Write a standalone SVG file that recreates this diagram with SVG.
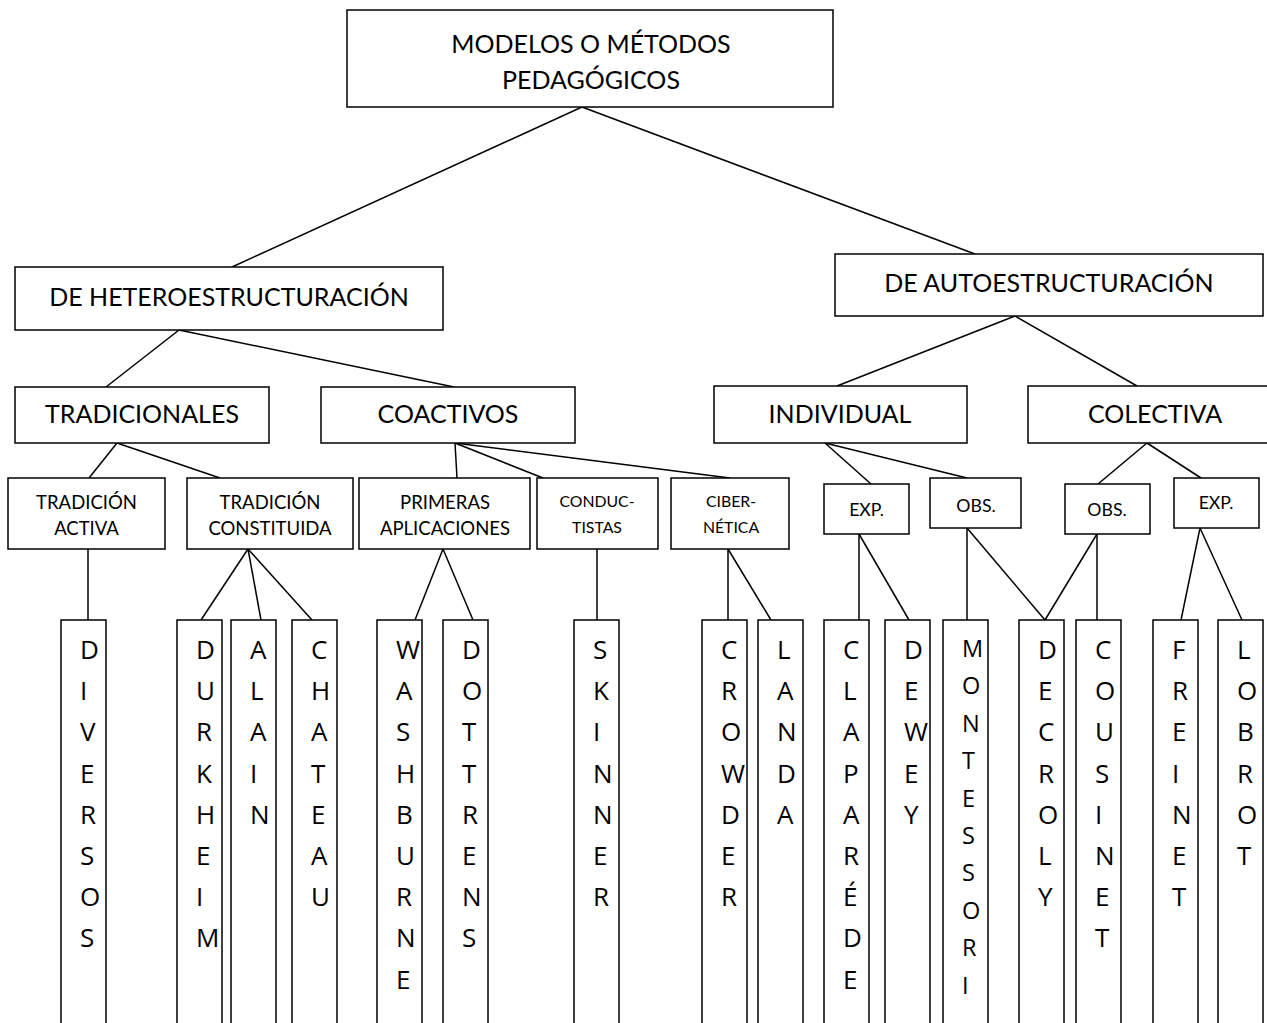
<svg xmlns="http://www.w3.org/2000/svg" width="1267" height="1023" viewBox="0 0 1267 1023">
<style>
.box{fill:#fff;stroke:#000;stroke-width:1.5}
.t{font-family:Lato,"Liberation Sans",sans-serif;fill:#000;text-anchor:middle}
.leaf{font-family:"Open Sans","Liberation Sans",sans-serif;font-size:26px;fill:#000}
.mont{font-size:23.5px}
#connectors line{stroke:#000;stroke-width:1.5}
</style>
<rect width="1267" height="1023" fill="#fff"/>
<g id="connectors">
<line x1="582" y1="107" x2="232" y2="267"/>
<line x1="582" y1="107" x2="975" y2="254"/>
<line x1="179" y1="330" x2="106" y2="387"/>
<line x1="179" y1="330" x2="454" y2="387"/>
<line x1="1015" y1="316" x2="837" y2="386"/>
<line x1="1015" y1="316" x2="1137" y2="386"/>
<line x1="117" y1="443" x2="89" y2="478"/>
<line x1="117" y1="443" x2="220" y2="478"/>
<line x1="455" y1="443" x2="457" y2="478"/>
<line x1="455" y1="443" x2="543" y2="478"/>
<line x1="455" y1="443" x2="730" y2="478"/>
<line x1="825" y1="443" x2="871" y2="484"/>
<line x1="825" y1="443" x2="967" y2="478"/>
<line x1="1147" y1="443" x2="1098" y2="484"/>
<line x1="1147" y1="443" x2="1201" y2="478"/>
<line x1="88" y1="549" x2="88" y2="620"/>
<line x1="248" y1="549" x2="201" y2="620"/>
<line x1="248" y1="549" x2="261" y2="620"/>
<line x1="248" y1="549" x2="312" y2="620"/>
<line x1="443" y1="549" x2="415" y2="620"/>
<line x1="443" y1="549" x2="473" y2="620"/>
<line x1="597" y1="549" x2="597" y2="620"/>
<line x1="728" y1="549" x2="728" y2="620"/>
<line x1="728" y1="549" x2="771" y2="620"/>
<line x1="859" y1="534" x2="859" y2="620"/>
<line x1="859" y1="534" x2="909" y2="620"/>
<line x1="967" y1="528" x2="967" y2="620"/>
<line x1="967" y1="528" x2="1045" y2="620"/>
<line x1="1097" y1="534" x2="1045" y2="620"/>
<line x1="1097" y1="534" x2="1097" y2="620"/>
<line x1="1200" y1="528" x2="1181" y2="620"/>
<line x1="1200" y1="528" x2="1242" y2="620"/>
</g>
<g id="n-root"><rect class="box" x="347" y="10" width="486" height="97"/>
<text class="t" x="591" y="53" font-size="25">MODELOS O MÉTODOS</text>
<text class="t" x="591" y="89" font-size="25">PEDAGÓGICOS</text></g>
<g id="n-hetero"><rect class="box" x="15" y="267" width="428" height="63"/>
<text class="t" x="229" y="306" font-size="25">DE HETEROESTRUCTURACIÓN</text></g>
<g id="n-auto"><rect class="box" x="835" y="254" width="428" height="62"/>
<text class="t" x="1049" y="292" font-size="25">DE AUTOESTRUCTURACIÓN</text></g>
<g id="n-trad"><rect class="box" x="15" y="387" width="254" height="56"/>
<text class="t" x="142" y="423" font-size="25">TRADICIONALES</text></g>
<g id="n-coact"><rect class="box" x="321" y="387" width="254" height="56"/>
<text class="t" x="448" y="423" font-size="25">COACTIVOS</text></g>
<g id="n-indiv"><rect class="box" x="714" y="386" width="253" height="57"/>
<text class="t" x="840" y="423" font-size="25">INDIVIDUAL</text></g>
<g id="n-colec"><rect class="box" x="1028" y="386" width="253" height="57"/>
<text class="t" x="1155" y="423" font-size="25">COLECTIVA</text></g>
<g id="n-tactiva"><rect class="box" x="8" y="478" width="157" height="71"/>
<text class="t" x="86.5" y="509" font-size="18.5">TRADICIÓN</text>
<text class="t" x="86.5" y="535" font-size="18.5">ACTIVA</text></g>
<g id="n-tconst"><rect class="box" x="187" y="478" width="166" height="71"/>
<text class="t" x="270" y="509" font-size="18.5">TRADICIÓN</text>
<text class="t" x="270" y="535" font-size="18.5">CONSTITUIDA</text></g>
<g id="n-primeras"><rect class="box" x="359" y="478" width="171" height="71"/>
<text class="t" x="445" y="509" font-size="18.5">PRIMERAS</text>
<text class="t" x="445" y="535" font-size="18.5">APLICACIONES</text></g>
<g id="n-conduc"><rect class="box" x="537" y="478" width="121" height="71"/>
<text class="t" x="597" y="507" font-size="15.8">CONDUC-</text>
<text class="t" x="597" y="533" font-size="15.8">TISTAS</text></g>
<g id="n-ciber"><rect class="box" x="671" y="478" width="118" height="71"/>
<text class="t" x="731" y="507" font-size="15.8">CIBER-</text>
<text class="t" x="731" y="533" font-size="15.8">NÉTICA</text></g>
<g id="n-exp1"><rect class="box" x="824" y="484" width="85" height="50"/>
<text class="t" x="866.5" y="516" font-size="17.7">EXP.</text></g>
<g id="n-obs1"><rect class="box" x="930" y="478" width="91" height="50"/>
<text class="t" x="976" y="512" font-size="17.7">OBS.</text></g>
<g id="n-obs2"><rect class="box" x="1065" y="484" width="85" height="50"/>
<text class="t" x="1107" y="516" font-size="17.7">OBS.</text></g>
<g id="n-exp2"><rect class="box" x="1174" y="478" width="85" height="50"/>
<text class="t" x="1216" y="509" font-size="17.7">EXP.</text></g>
<g id="l-diversos"><rect class="box" x="61" y="620" width="45" height="420"/>
<text class="leaf" y="659"><tspan x="80">D</tspan><tspan x="80" dy="41.2">I</tspan><tspan x="80" dy="41.2">V</tspan><tspan x="80" dy="41.2">E</tspan><tspan x="80" dy="41.2">R</tspan><tspan x="80" dy="41.2">S</tspan><tspan x="80" dy="41.2">O</tspan><tspan x="80" dy="41.2">S</tspan></text></g>
<g id="l-durkheim"><rect class="box" x="177" y="620" width="45" height="420"/>
<text class="leaf" y="659"><tspan x="196">D</tspan><tspan x="196" dy="41.2">U</tspan><tspan x="196" dy="41.2">R</tspan><tspan x="196" dy="41.2">K</tspan><tspan x="196" dy="41.2">H</tspan><tspan x="196" dy="41.2">E</tspan><tspan x="196" dy="41.2">I</tspan><tspan x="196" dy="41.2">M</tspan></text></g>
<g id="l-alain"><rect class="box" x="231" y="620" width="45" height="420"/>
<text class="leaf" y="659"><tspan x="250">A</tspan><tspan x="250" dy="41.2">L</tspan><tspan x="250" dy="41.2">A</tspan><tspan x="250" dy="41.2">I</tspan><tspan x="250" dy="41.2">N</tspan></text></g>
<g id="l-chateau"><rect class="box" x="292" y="620" width="45" height="420"/>
<text class="leaf" y="659"><tspan x="311">C</tspan><tspan x="311" dy="41.2">H</tspan><tspan x="311" dy="41.2">A</tspan><tspan x="311" dy="41.2">T</tspan><tspan x="311" dy="41.2">E</tspan><tspan x="311" dy="41.2">A</tspan><tspan x="311" dy="41.2">U</tspan></text></g>
<g id="l-washburne"><rect class="box" x="377" y="620" width="45" height="420"/>
<text class="leaf" y="659"><tspan x="396">W</tspan><tspan x="396" dy="41.2">A</tspan><tspan x="396" dy="41.2">S</tspan><tspan x="396" dy="41.2">H</tspan><tspan x="396" dy="41.2">B</tspan><tspan x="396" dy="41.2">U</tspan><tspan x="396" dy="41.2">R</tspan><tspan x="396" dy="41.2">N</tspan><tspan x="396" dy="41.2">E</tspan></text></g>
<g id="l-dottrens"><rect class="box" x="443" y="620" width="45" height="420"/>
<text class="leaf" y="659"><tspan x="462">D</tspan><tspan x="462" dy="41.2">O</tspan><tspan x="462" dy="41.2">T</tspan><tspan x="462" dy="41.2">T</tspan><tspan x="462" dy="41.2">R</tspan><tspan x="462" dy="41.2">E</tspan><tspan x="462" dy="41.2">N</tspan><tspan x="462" dy="41.2">S</tspan></text></g>
<g id="l-skinner"><rect class="box" x="574" y="620" width="45" height="420"/>
<text class="leaf" y="659"><tspan x="593">S</tspan><tspan x="593" dy="41.2">K</tspan><tspan x="593" dy="41.2">I</tspan><tspan x="593" dy="41.2">N</tspan><tspan x="593" dy="41.2">N</tspan><tspan x="593" dy="41.2">E</tspan><tspan x="593" dy="41.2">R</tspan></text></g>
<g id="l-crowder"><rect class="box" x="702" y="620" width="45" height="420"/>
<text class="leaf" y="659"><tspan x="721">C</tspan><tspan x="721" dy="41.2">R</tspan><tspan x="721" dy="41.2">O</tspan><tspan x="721" dy="41.2">W</tspan><tspan x="721" dy="41.2">D</tspan><tspan x="721" dy="41.2">E</tspan><tspan x="721" dy="41.2">R</tspan></text></g>
<g id="l-landa"><rect class="box" x="758" y="620" width="45" height="420"/>
<text class="leaf" y="659"><tspan x="777">L</tspan><tspan x="777" dy="41.2">A</tspan><tspan x="777" dy="41.2">N</tspan><tspan x="777" dy="41.2">D</tspan><tspan x="777" dy="41.2">A</tspan></text></g>
<g id="l-claparede"><rect class="box" x="824" y="620" width="45" height="420"/>
<text class="leaf" y="659"><tspan x="843">C</tspan><tspan x="843" dy="41.2">L</tspan><tspan x="843" dy="41.2">A</tspan><tspan x="843" dy="41.2">P</tspan><tspan x="843" dy="41.2">A</tspan><tspan x="843" dy="41.2">R</tspan><tspan x="843" dy="41.2">É</tspan><tspan x="843" dy="41.2">D</tspan><tspan x="843" dy="41.2">E</tspan></text></g>
<g id="l-dewey"><rect class="box" x="885" y="620" width="45" height="420"/>
<text class="leaf" y="659"><tspan x="904">D</tspan><tspan x="904" dy="41.2">E</tspan><tspan x="904" dy="41.2">W</tspan><tspan x="904" dy="41.2">E</tspan><tspan x="904" dy="41.2">Y</tspan></text></g>
<g id="l-montessori"><rect class="box" x="943" y="620" width="45" height="420"/>
<text class="leaf mont" y="657"><tspan x="962">M</tspan><tspan x="962" dy="37.4">O</tspan><tspan x="962" dy="37.4">N</tspan><tspan x="962" dy="37.4">T</tspan><tspan x="962" dy="37.4">E</tspan><tspan x="962" dy="37.4">S</tspan><tspan x="962" dy="37.4">S</tspan><tspan x="962" dy="37.4">O</tspan><tspan x="962" dy="37.4">R</tspan><tspan x="962" dy="37.4">I</tspan></text></g>
<g id="l-decroly"><rect class="box" x="1019" y="620" width="45" height="420"/>
<text class="leaf" y="659"><tspan x="1038">D</tspan><tspan x="1038" dy="41.2">E</tspan><tspan x="1038" dy="41.2">C</tspan><tspan x="1038" dy="41.2">R</tspan><tspan x="1038" dy="41.2">O</tspan><tspan x="1038" dy="41.2">L</tspan><tspan x="1038" dy="41.2">Y</tspan></text></g>
<g id="l-cousinet"><rect class="box" x="1076" y="620" width="45" height="420"/>
<text class="leaf" y="659"><tspan x="1095">C</tspan><tspan x="1095" dy="41.2">O</tspan><tspan x="1095" dy="41.2">U</tspan><tspan x="1095" dy="41.2">S</tspan><tspan x="1095" dy="41.2">I</tspan><tspan x="1095" dy="41.2">N</tspan><tspan x="1095" dy="41.2">E</tspan><tspan x="1095" dy="41.2">T</tspan></text></g>
<g id="l-freinet"><rect class="box" x="1153" y="620" width="45" height="420"/>
<text class="leaf" y="659"><tspan x="1172">F</tspan><tspan x="1172" dy="41.2">R</tspan><tspan x="1172" dy="41.2">E</tspan><tspan x="1172" dy="41.2">I</tspan><tspan x="1172" dy="41.2">N</tspan><tspan x="1172" dy="41.2">E</tspan><tspan x="1172" dy="41.2">T</tspan></text></g>
<g id="l-lobrot"><rect class="box" x="1218" y="620" width="45" height="420"/>
<text class="leaf" y="659"><tspan x="1237">L</tspan><tspan x="1237" dy="41.2">O</tspan><tspan x="1237" dy="41.2">B</tspan><tspan x="1237" dy="41.2">R</tspan><tspan x="1237" dy="41.2">O</tspan><tspan x="1237" dy="41.2">T</tspan></text></g>
</svg>
